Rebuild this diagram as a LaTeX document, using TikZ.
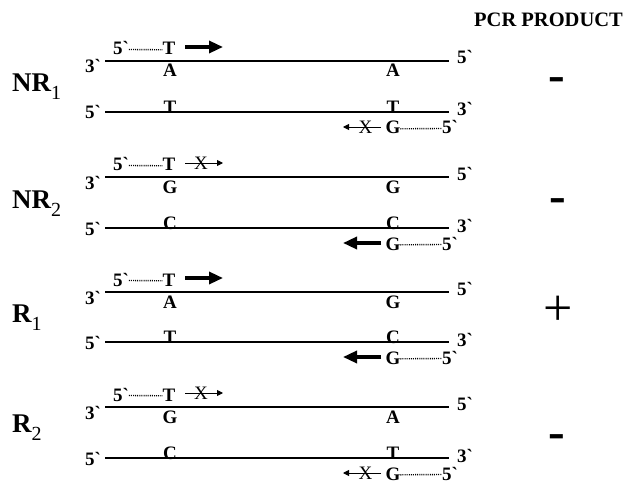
\documentclass[tikz,border=0pt]{standalone}
\usepackage{fontspec}
\setmainfont{Liberation Serif}
\usetikzlibrary{arrows.meta}
\newcommand\gv{\textasciigrave}
\tikzset{
  lab/.style={font=\fontsize{19}{19}\selectfont\bfseries, inner sep=0pt, outer sep=0pt},
  strandtop/.style={line width=1.7pt},
  strandbot/.style={line width=2.3pt},
  primerdots/.style={line width=1.4pt, dash pattern=on 1pt off 1.1pt},
  goodarrow/.style={line width=3.3pt, -{Triangle[length=14pt,width=12pt]}},
  badarrow/.style={line width=0.9pt, -{Triangle[length=6pt,width=6pt]}},
  xmark/.style={font=\fontsize{19}{19}\selectfont, inner sep=0pt},
  sample/.style={font=\fontsize{27}{27}\selectfont\bfseries, inner sep=0pt, anchor=base west},
  result/.style={font=\fontsize{50}{50}\selectfont\bfseries, inner sep=0pt, anchor=base},
  resultplus/.style={font=\fontsize{52}{52}\selectfont, inner sep=0pt, anchor=base},
}
% #1 id, #2 top strand y, #3 bottom strand y, #4..#7 bases
\newcommand\dnablock[7]{%
  \coordinate (ts#1) at (105,#2); \coordinate (te#1) at (449,#2);
  \coordinate (bs#1) at (105,#3); \coordinate (be#1) at (449,#3);
  \draw[strandtop] (ts#1) -- (te#1);
  \draw[strandbot] (bs#1) -- (be#1);
  \node[lab, anchor=base east] (lt#1) at (101,#2+12) {3\gv};
  \node[lab, anchor=base west] (rt#1) at (457,#2+3) {5\gv};
  \node[lab, anchor=base east] (lb#1) at (101,#3+7) {5\gv};
  \node[lab, anchor=base west] (rb#1) at (457,#3+4) {3\gv};
  % top primer
  \node[lab, anchor=base west] (pf#1) at (113,#2-6) {5\gv};
  \node[lab, anchor=base] (pt#1) at (169,#2-6) {T};
  \draw[primerdots] ([yshift=-1pt]pf#1.east) -- ([yshift=-1pt]pt#1.west);
  % bases
  \node[lab, anchor=base] (na#1) at (170,#2+16) {#4};
  \node[lab, anchor=base] (nb#1) at (393,#2+16) {#5};
  \node[lab, anchor=base] (nc#1) at (170,#3+1.5) {#6};
  \node[lab, anchor=base] (nd#1) at (393,#3+1.5) {#7};
  % bottom primer
  \node[lab, anchor=base] (qg#1) at (393,#3+22) {G};
  \node[lab, anchor=base west] (qf#1) at (442,#3+22) {5\gv};
  \draw[primerdots] ([yshift=-1pt]qg#1.east) -- ([yshift=-1pt]qf#1.west);
  % arrow end points
  \coordinate (as#1) at (185,#2-14); \coordinate (ae#1) at (223,#2-14);
  \coordinate (bas#1) at (381,#3+15); \coordinate (bae#1) at (343,#3+15);
}
\begin{document}
\begin{tikzpicture}[x=1pt,y=-1pt]
\useasboundingbox (0,0) rectangle (629,484);

\node[font=\fontsize{20.5}{20.5}\selectfont\bfseries, inner sep=0pt, anchor=base] (title) at (548.5,27) {PCR PRODUCT};

% NR1
\dnablock{1}{61}{112}{A}{A}{T}{T}
\draw[goodarrow] (as1) -- (ae1);
\draw[badarrow] (bas1) -- (bae1) node[xmark, pos=0.41] (xb1) {X};
\node[sample] (s1) at (12,91.5) {NR\raisebox{-8pt}{\fontsize{20}{20}\selectfont\mdseries 1}};
\node[result] (r1) at (556.5,91.5) {-};

% NR2
\dnablock{2}{177}{228}{G}{G}{C}{C}
\draw[badarrow] (as2) -- (ae2) node[xmark, pos=0.42] (xa2) {X};
\draw[goodarrow] (bas2) -- (bae2);
\node[sample] (s2) at (12,208) {NR\raisebox{-8pt}{\fontsize{20}{20}\selectfont\mdseries 2}};
\node[result] (r2) at (557.5,212) {-};

% R1
\dnablock{3}{292}{342}{A}{G}{T}{C}
\draw[goodarrow] (as3) -- (ae3);
\draw[goodarrow] (bas3) -- (bae3);
\node[sample] (s3) at (12,322) {R\raisebox{-8pt}{\fontsize{20}{20}\selectfont\mdseries 1}};
\node[resultplus] (r3) at (558,325.5) {+};

% R2
\dnablock{4}{407}{458}{G}{A}{C}{T}
\draw[badarrow] (as4) -- (ae4) node[xmark, pos=0.42] (xa4) {X};
\draw[badarrow] (bas4) -- (bae4) node[xmark, pos=0.41] (xb4) {X};
\node[sample] (s4) at (12,432) {R\raisebox{-8pt}{\fontsize{20}{20}\selectfont\mdseries 2}};
\node[result] (r4) at (557,448.5) {-};
\end{tikzpicture}
\end{document}
